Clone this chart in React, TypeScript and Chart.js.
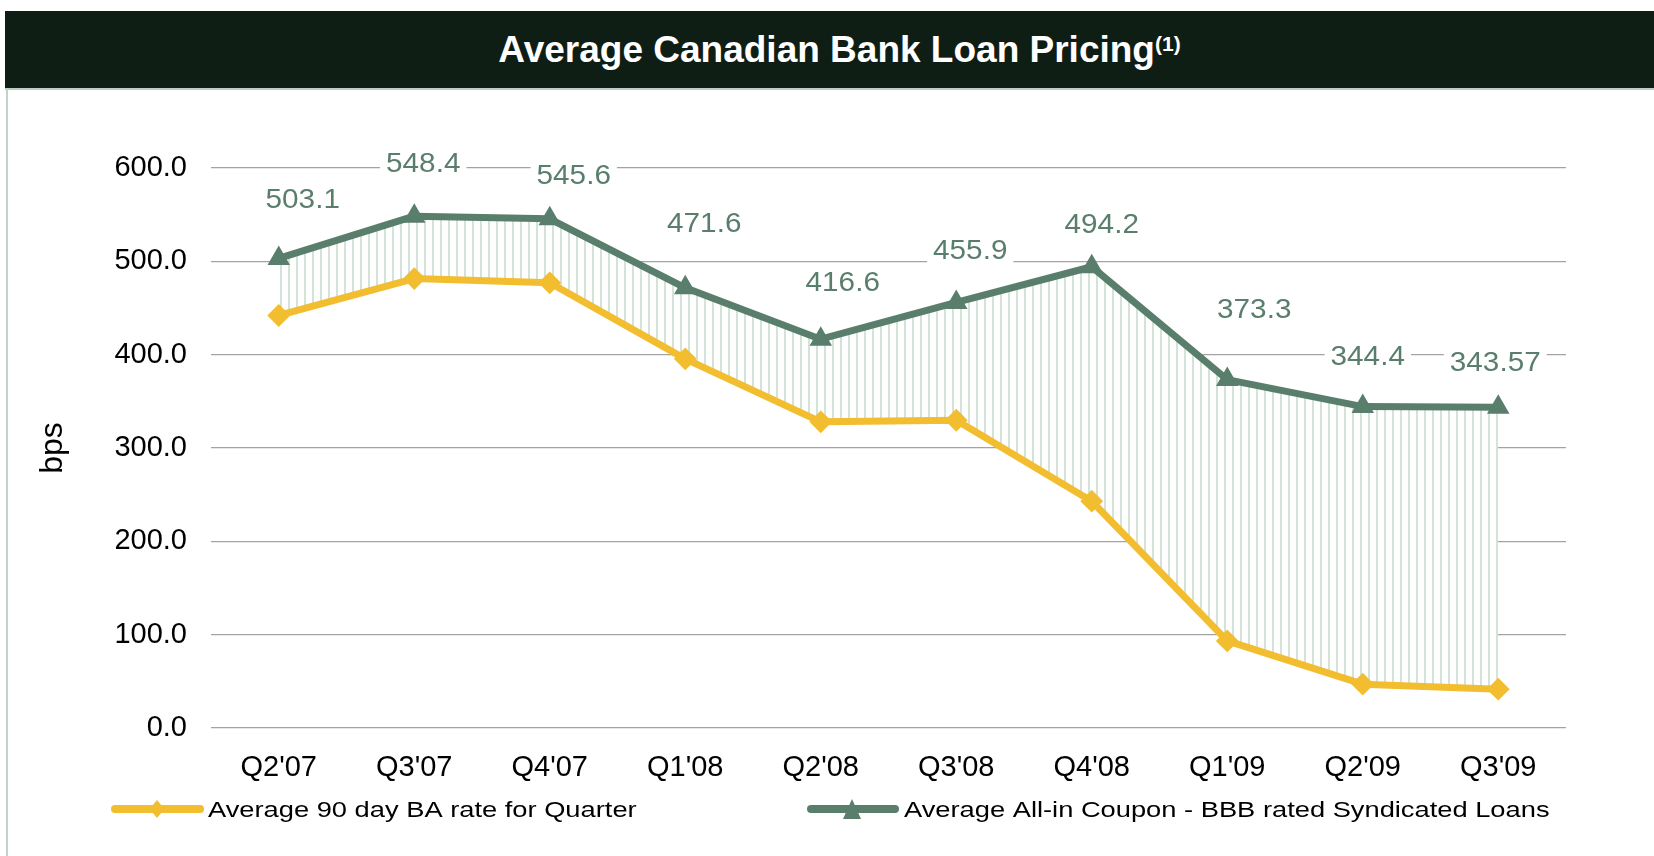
import React, { useEffect, useRef } from 'react';
import { Chart, registerables } from 'chart.js';

Chart.register(...registerables);

const FONT = '"Liberation Sans", Arial, Helvetica, sans-serif';
const GREEN = '#5a7e6c';
const YELLOW = '#f2bd2f';
const HATCH = '#d3e3d8';

// ---- data ----
const categories = ["Q2'07", "Q3'07", "Q4'07", "Q1'08", "Q2'08", "Q3'08", "Q4'08", "Q1'09", "Q2'09", "Q3'09"];
const baRate = [442, 481.5, 477, 395.5, 328, 329.7, 243, 93.3, 47, 41.6];
const coupon = [503.1, 548.4, 545.6, 471.6, 416.6, 455.9, 494.2, 373.3, 344.4, 343.57];
const couponLabels = ['503.1', '548.4', '545.6', '471.6', '416.6', '455.9', '494.2', '373.3', '344.4', '343.57'];
const yMin = 0;
const yMax = 600;
const yStep = 100;
const seriesNames = ['Average 90 day BA rate for Quarter', 'Average All-in Coupon - BBB rated Syndicated Loans'];
const yAxisTitle = 'bps';
const titleText = 'Average Canadian Bank Loan Pricing';
const titleNote = '(1)';

// label nudges (pixels, relative to each point) as placed in the original
const labelNudges: [number, number][] = [
  [24, -58], [9, -52], [24, -42.5], [19, -63], [22, -56],
  [14, -51], [10, -41.5], [27, -69], [5, -49], [-3, -44],
];

function makeHatch(): CanvasPattern | string {
  const c = document.createElement('canvas');
  c.width = 8;
  c.height = 4;
  const g = c.getContext('2d');
  if (!g) return HATCH;
  g.fillStyle = '#ffffff';
  g.fillRect(0, 0, 8, 4);
  g.fillStyle = HATCH;
  g.fillRect(0, 0, 2, 4);
  return g.createPattern(c, 'repeat') || HATCH;
}

function stretchedText(ctx: CanvasRenderingContext2D, text: string, x: number, y: number, sx: number, align: CanvasTextAlign) {
  ctx.save();
  ctx.translate(x, y);
  ctx.scale(sx, 1);
  ctx.textAlign = align;
  ctx.textBaseline = 'middle';
  ctx.fillText(text, 0, 0);
  ctx.restore();
}

const overlayPlugin = {
  id: 'overlay',
  afterDatasetsDraw(chart: any) {
    const ctx: CanvasRenderingContext2D = chart.ctx;
    const meta = chart.getDatasetMeta(1);
    ctx.save();
    ctx.font = `27px ${FONT}`;
    const sx = 1.1;
    meta.data.forEach((pt: any, i: number) => {
      const [dx, dy] = labelNudges[i];
      const x = pt.x + dx;
      const y = pt.y + dy;
      const w = ctx.measureText(couponLabels[i]).width * sx;
      ctx.fillStyle = '#ffffff';
      ctx.fillRect(x - w / 2 - 6, y - 13, w + 12, 26);
      ctx.fillStyle = GREEN;
      stretchedText(ctx, couponLabels[i], x, y, sx, 'center');
    });
    ctx.restore();
  },
  afterDraw(chart: any) {
    const ctx: CanvasRenderingContext2D = chart.ctx;
    ctx.save();
    const ly = 809;
    // legend item 1 (yellow, diamond)
    ctx.strokeStyle = YELLOW;
    ctx.lineWidth = 8;
    ctx.lineCap = 'round';
    ctx.beginPath();
    ctx.moveTo(115, ly);
    ctx.lineTo(200, ly);
    ctx.stroke();
    ctx.fillStyle = YELLOW;
    ctx.beginPath();
    ctx.moveTo(157, ly - 9);
    ctx.lineTo(164.5, ly);
    ctx.lineTo(157, ly + 9);
    ctx.lineTo(149.5, ly);
    ctx.closePath();
    ctx.fill();
    // legend item 2 (green, triangle)
    ctx.strokeStyle = GREEN;
    ctx.beginPath();
    ctx.moveTo(811, ly);
    ctx.lineTo(895, ly);
    ctx.stroke();
    ctx.fillStyle = GREEN;
    ctx.beginPath();
    ctx.moveTo(852, ly - 10);
    ctx.lineTo(861, ly + 10);
    ctx.lineTo(843, ly + 10);
    ctx.closePath();
    ctx.fill();
    // legend texts
    ctx.fillStyle = '#000000';
    ctx.font = `22px ${FONT}`;
    stretchedText(ctx, seriesNames[0], 208, ly + 2, 1.24, 'left');
    stretchedText(ctx, seriesNames[1], 904, ly + 2, 1.24, 'left');
    ctx.restore();
  },
};

export default function App() {
  const canvasRef = useRef<HTMLCanvasElement | null>(null);

  useEffect(() => {
    const canvas = canvasRef.current;
    if (!canvas) return;
    const hatch = makeHatch();
    const chart = new Chart(canvas, {
      type: 'line',
      data: {
        labels: categories,
        datasets: [
          {
            label: seriesNames[0],
            data: baRate,
            borderColor: YELLOW,
            backgroundColor: YELLOW,
            borderWidth: 7,
            borderJoinStyle: 'round',
            pointStyle: 'rectRot',
            pointRadius: 10,
            pointBorderWidth: 2,
            pointBackgroundColor: YELLOW,
            pointBorderColor: YELLOW,
            tension: 0,
            fill: false,
          },
          {
            label: seriesNames[1],
            data: coupon,
            borderColor: GREEN,
            backgroundColor: hatch as any,
            borderWidth: 7,
            borderJoinStyle: 'round',
            pointStyle: 'triangle',
            pointRadius: 11,
            pointBorderWidth: 2,
            pointBackgroundColor: GREEN,
            pointBorderColor: GREEN,
            tension: 0,
            fill: '-1',
          },
        ],
      },
      options: {
        responsive: false,
        animation: false,
        events: [],
        layout: { padding: { top: 168, right: 88, bottom: 0, left: 0 } },
        plugins: {
          legend: { display: false },
          tooltip: { enabled: false },
          title: { display: false },
        },
        scales: {
          x: {
            type: 'category',
            offset: true,
            grid: { display: false, drawTicks: false },
            border: { display: false },
            ticks: {
              color: '#000000',
              font: { family: FONT, size: 29 },
              padding: 23,
              maxRotation: 0,
              autoSkip: false,
            },
            afterFit: (s: any) => {
              s.height = 128;
            },
          },
          y: {
            min: yMin,
            max: yMax,
            ticks: {
              stepSize: yStep,
              color: '#000000',
              font: { family: FONT, size: 29 },
              padding: 24,
              callback: (v: any) => Number(v).toFixed(1),
            },
            grid: { color: '#a3a3a3', lineWidth: 1.2, drawTicks: false },
            border: { display: false },
            title: {
              display: true,
              text: yAxisTitle,
              color: '#000000',
              font: { family: FONT, size: 32 },
              padding: { top: 34, bottom: 0 },
            },
            afterFit: (s: any) => {
              s.width = 211;
            },
          },
        },
      },
      plugins: [overlayPlugin],
    } as any);
    return () => chart.destroy();
  }, []);

  return (
    <div style={{ position: 'absolute', left: 0, top: 0, width: 1654, height: 856, background: '#ffffff', overflow: 'hidden' }}>
      <div
        style={{
          position: 'absolute', left: 5, top: 11, width: 1649, height: 77, background: '#0f1e15',
          display: 'flex', alignItems: 'center', justifyContent: 'center', paddingLeft: 20, boxSizing: 'border-box',
          color: '#ffffff', fontFamily: FONT, fontWeight: 'bold', fontSize: 37, whiteSpace: 'nowrap',
        }}
      >
        <span>
          {titleText}
          <span style={{ fontSize: 21, position: 'relative', top: -11 }}>{titleNote}</span>
        </span>
      </div>
      <div style={{ position: 'absolute', left: 5, top: 88, width: 1649, height: 2, background: '#bccdc4' }} />
      <div style={{ position: 'absolute', left: 6, top: 88, width: 2, height: 768, background: '#c3d3ca' }} />
      <canvas ref={canvasRef} width={1654} height={856} style={{ position: 'absolute', left: 0, top: 0 }} />
    </div>
  );
}
